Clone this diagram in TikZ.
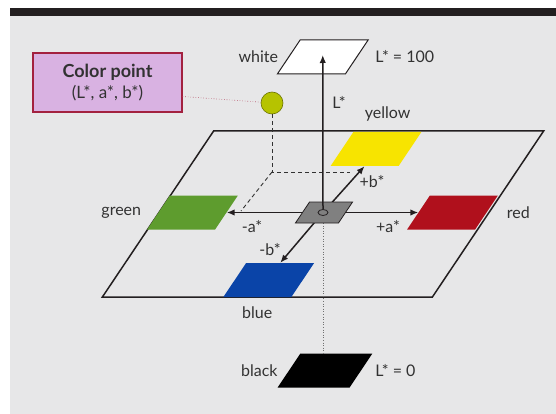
\documentclass[tikz,border=0pt]{standalone}
\usepackage{fontspec}
\setmainfont{Lato}
\usetikzlibrary{arrows.meta, positioning, shapes.geometric}

\definecolor{paper}{RGB}{231,231,232}
\definecolor{bar}{RGB}{35,31,32}
\definecolor{ink}{RGB}{50,50,50}
\definecolor{labyellow}{RGB}{247,228,0}
\definecolor{labgreen}{RGB}{94,156,46}
\definecolor{labred}{RGB}{176,16,28}
\definecolor{labblue}{RGB}{10,68,168}
\definecolor{boxfill}{RGB}{217,178,226}
\definecolor{boxline}{RGB}{163,33,63}
\definecolor{pointfill}{RGB}{182,195,0}

\begin{document}
\begin{tikzpicture}[
    x=1pt, y=1pt,
    font=\fontsize{16}{18}\selectfont,
    patch/.style={minimum width=68pt, minimum height=34pt, inner sep=0pt, xslant=0.67, transform shape},
    lab/.style={inner sep=0pt, text=ink},
    axis/.style={draw=bar, line width=1.5pt, -{Latex[length=8pt,width=6.5pt]}},
    guide/.style={draw=ink, line width=0.9pt, dash pattern=on 4pt off 3pt},
    plumb/.style={draw=ink!70, line width=0.6pt, dotted}
]
    \useasboundingbox (0,0) rectangle (556,-414);
    \fill[paper] (10,-16) rectangle (556,-414);
    \fill[bar] (10,-8) rectangle (556,-16);

    % Plane and colour patches
    \node [patch, draw=bar, line width=1.5pt, minimum width=330pt, minimum height=166pt] (plane) at (323,-214) {};
    \node [patch, fill=white, draw=bar, line width=1pt] (whitep) at (322.75,-57) {};
    \node [patch, fill=labyellow] (yellowp) at (376,-149) {};
    \node [patch, fill=labgreen] (greenp) at (192.5,-212.5) {};
    \node [patch, fill=labred] (redp) at (452.5,-212.5) {};
    \node [patch, fill=labblue] (bluep) at (268.75,-280) {};
    \node [patch, fill=black, minimum width=72pt] (blackp) at (325,-370.5) {};

    % Labels
    \node [lab, left=10pt of whitep] (white) {white};
    \node [lab, right=18pt of whitep] (lmax) {L* = 100};
    \node [lab, above=10pt of yellowp] (yellow) {yellow};
    \node [lab, left=17pt of greenp] (green) {green};
    \node [lab, right=20pt of redp] (red) {red};
    \node [lab, below=9pt of bluep] (blue) {blue};
    \node [lab, left=11pt of blackp] (black) {black};
    \node [lab, right=14pt of blackp] (lmin) {L* = 0};

    % Projection of the colour point
    \coordinate (O) at (323,-212.5);
    \coordinate (foot) at (272,-172);
    \coordinate (bproj) at (350,-172);
    \coordinate (aproj) at (241,-211);
    \node [circle, fill=pointfill, draw=pointfill!60!black, line width=0.6pt, minimum size=22pt, inner sep=0pt] (point) at (272,-103) {};
    \draw [guide] (point) -- (foot) -- (bproj);
    \draw [guide] (foot) -- (aproj);
    \draw [plumb] (O) -- (O |- blackp.north);

    % Axes
    \draw [axis] (O) -- (greenp.east);
    \draw [axis] (O) -- (redp.west);
    \draw [axis] (O) -- (yellowp.south);
    \draw [axis] (O) -- (bluep.north);
    \node [patch, fill=gray, draw=bar, line width=0.8pt, minimum width=43pt, minimum height=21pt] (zero) at (324,-212.5) {};
    \node [ellipse, draw=bar, line width=0.8pt, minimum width=10pt, minimum height=6pt, inner sep=0pt] (hub) at (O) {};
    \draw [axis] (hub.north) -- ([yshift=2pt]whitep.center);

    \node [lab] (lstar) at (339,-102) {L*};
    \node [lab] (bplus) at (372,-182) {+b*};
    \node [lab] (bminus) at (270,-250) {-b*};
    \node [lab] (aminus) at (252,-227) {-a*};
    \node [lab] (aplus) at (388,-227) {+a*};

    % Colour point box
    \node [draw=boxline, line width=1.2pt, fill=boxfill, minimum width=149pt, minimum height=59pt, align=center, text=ink, font=\fontsize{17}{21}\selectfont] (box) at (107.5,-82.5) {{\fontsize{18}{21}\selectfont\textbf{Color point}}\\(L*, a*, b*)};
    \draw [plumb, draw=boxline!80] ([yshift=-14pt]box.east) -- (point);
\end{tikzpicture}
\end{document}
